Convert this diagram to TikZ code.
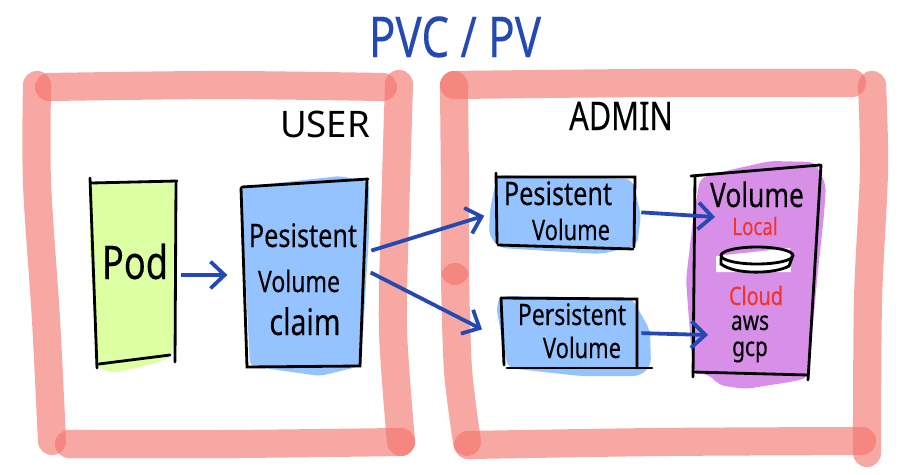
\documentclass[tikz,border=0pt]{standalone}
\usepackage{fontspec}
\setmainfont{Noto Sans}
\newfontfamily\handfont[FakeStretch=0.78,FakeBold=0.2]{Noto Sans}
\definecolor{framered}{HTML}{F3736B}
\definecolor{podgreen}{HTML}{DDFFA3}
\definecolor{pvblue}{HTML}{94C3FF}
\definecolor{volpurple}{HTML}{D78FE8}
\definecolor{flowblue}{HTML}{2449B2}
\definecolor{labelred}{HTML}{F0352B}
\usetikzlibrary{arrows.meta}
\tikzset{
    frameline/.style={draw=framered, opacity=0.62, line width=20pt, line cap=round},
    sketch/.style={draw=black, line width=2pt, line cap=round},
    flow/.style={draw=flowblue, line width=2.7pt, -{Straight Barb[length=10pt,width=19pt,line width=2.7pt]}},
    box/.style={inner sep=0pt},
    hand/.style={anchor=base, inner sep=0pt}
}
\newcommand{\handsize}[1]{\fontsize{#1}{#1}\handfont}

\begin{document}
\begin{tikzpicture}[x=0.025cm, y=-0.025cm]
    \useasboundingbox (0,0) rectangle (905,474);

    \draw[frameline] plot[smooth] coordinates {(37,85) (37,183) (46,320) (52,441)};
    \draw[frameline] plot[smooth] coordinates {(49,87) (220,85) (383,87)};
    \draw[frameline] plot[smooth] coordinates {(399,84) (395,217) (393,330) (401,442)};
    \draw[frameline] plot[smooth] coordinates {(69,444) (230,444) (401,442)};
    \draw[frameline] (454,85) -- (455,183) -- (455,271);
    \draw[frameline] plot[smooth] coordinates {(455,277) (458,370) (467,442)};
    \draw[frameline] plot[smooth] coordinates {(454,85) (650,83) (852,83)};
    \draw[frameline] plot[smooth] coordinates {(872,85) (874,170) (868,300) (867,453)};
    \draw[frameline] plot[smooth] coordinates {(468,445) (660,442) (862,441)};

    \fill[podgreen, rounded corners=4pt] (91,183) -- (175,181) -- (176,300) -- (172,357) -- (145,366) -- (113,373) -- (98,368) -- (90,250) -- cycle;
    \fill[pvblue, rounded corners=4pt] (241,187) -- (340,176) -- (369,182) -- (369,235) -- (361,366) -- (320,376) -- (250,366) -- cycle;
    \fill[pvblue, rounded corners=5pt] (497,175) -- (632,179) -- (641,215) -- (637,246) -- (600,254) -- (500,248) -- (489,236) -- (490,210) -- cycle;
    \fill[pvblue, rounded corners=5pt] (496,305) -- (502,296) -- (632,298) -- (650,330) -- (651,366) -- (640,376) -- (580,376) -- (508,368) -- (503,345) -- cycle;
    \fill[volpurple, rounded corners=5pt] (700,178) -- (730,170) -- (770,161) -- (815,162) -- (826,185) -- (824,215) -- (818,270) -- (808,378) -- (790,382) -- (745,389) -- (718,385) -- (712,376) -- (693,372) -- (689,320) -- (686,280) -- (693,220) -- cycle;

    \node[box, minimum width=61.8pt, minimum height=132pt] (pod) at (133,275) {};
    \node[box, minimum width=85.2pt, minimum height=130pt] (pvc) at (303,275) {};
    \node[box, minimum width=98.7pt, minimum height=49.7pt] (pvone) at (566,212) {};
    \node[box, minimum width=96.6pt, minimum height=49pt] (pvtwo) at (569,333) {};
    \node[box, minimum width=90pt, minimum height=148pt] (vol) at (757,274) {};

    \draw[sketch] (90,178) -- (97,368);
    \draw[sketch] (91,183) -- (177,181);
    \draw[sketch] (176,182) -- (175,362);
    \draw[sketch] (99,364) -- (170,355);
    \draw[sketch] (241,188) -- (247,367) -- (360,366) -- (367,180);
    \draw[sketch] (242,187) -- (368,179);
    \draw[sketch] (496,173) -- (497,243);
    \draw[sketch] (496,177) -- (635,177) -- (634,247);
    \draw[sketch] (498,245) -- (633,249);
    \draw[sketch] (501,298) -- (504,365);
    \draw[sketch] (501,298) -- (637,299) -- (637,368);
    \draw[sketch] (507,368) -- (652,368);
    \draw[sketch] (691,176) -- (820,165);
    \draw[sketch] (695,176) -- (693,377);
    \draw[sketch] (821,165) -- (808,380);
    \draw[sketch] (693,372) -- (808,375);

    \fill[white] (716,256) -- (790,248) -- (791,272) -- (716,272) -- cycle;
    \draw[sketch] (757,255.5) ellipse (36 and 8.5);
    \draw[sketch] (721,258) -- (721,264) .. controls (735,275) and (775,274) .. (789,266) -- (792,258);

    \node[hand, font=\handsize{40}, text=flowblue] (title) at (455,57) {PVC / PV};
    \node[hand, font=\fontsize{26}{26}\selectfont] (user) at (325,137) {USER};
    \node[hand, font=\handsize{28}] (admin) at (621,130) {ADMIN};
    \node[hand, font=\handsize{33}] (podtext) at (135,279) {Pod};
    \node[hand, font=\handsize{23}] (pvcfirst) at (303,247) {Pesistent};
    \node[hand, font=\handsize{21}] (pvcsecond) at (299,292) {Volume};
    \node[hand, font=\handsize{26}] (pvcthird) at (305,335) {claim};
    \node[hand, font=\handsize{23}] (pvonefirst) at (558,205) {Pesistent};
    \node[hand, font=\handsize{20}] (pvonesecond) at (571,240) {Volume};
    \node[hand, font=\handsize{21}] (pvtwofirst) at (572,325) {Persistent};
    \node[hand, font=\handsize{20}] (pvtwosecond) at (582,358) {Volume};
    \node[hand, font=\handsize{24}] (voltext) at (757,207) {Volume};
    \node[hand, font=\handsize{17}, text=labelred] (local) at (755,235) {Local};
    \node[hand, font=\handsize{18}, text=labelred] (cloud) at (756,305) {Cloud};
    \node[hand, font=\handsize{19}] (aws) at (750,330) {aws};
    \node[hand, font=\handsize{19}] (gcp) at (750,356) {gcp};

    \coordinate (volin) at (715,217);
    \coordinate (cloudin) at (708,335);

    \draw[flow, shorten <=3pt, shorten >=11pt] (pod) -- (pvc);
    \draw[flow, shorten <=6pt, shorten >=9pt] (pvc.20) -- (pvone.west);
    \draw[flow, shorten <=6pt, shorten >=15pt] (pvc.6) -- (pvtwo.185);
    \draw[flow, shorten <=4pt] (pvone.east) -- (volin);
    \draw[flow, shorten <=3pt] (pvtwo.east) -- (cloudin);
\end{tikzpicture}
\end{document}
